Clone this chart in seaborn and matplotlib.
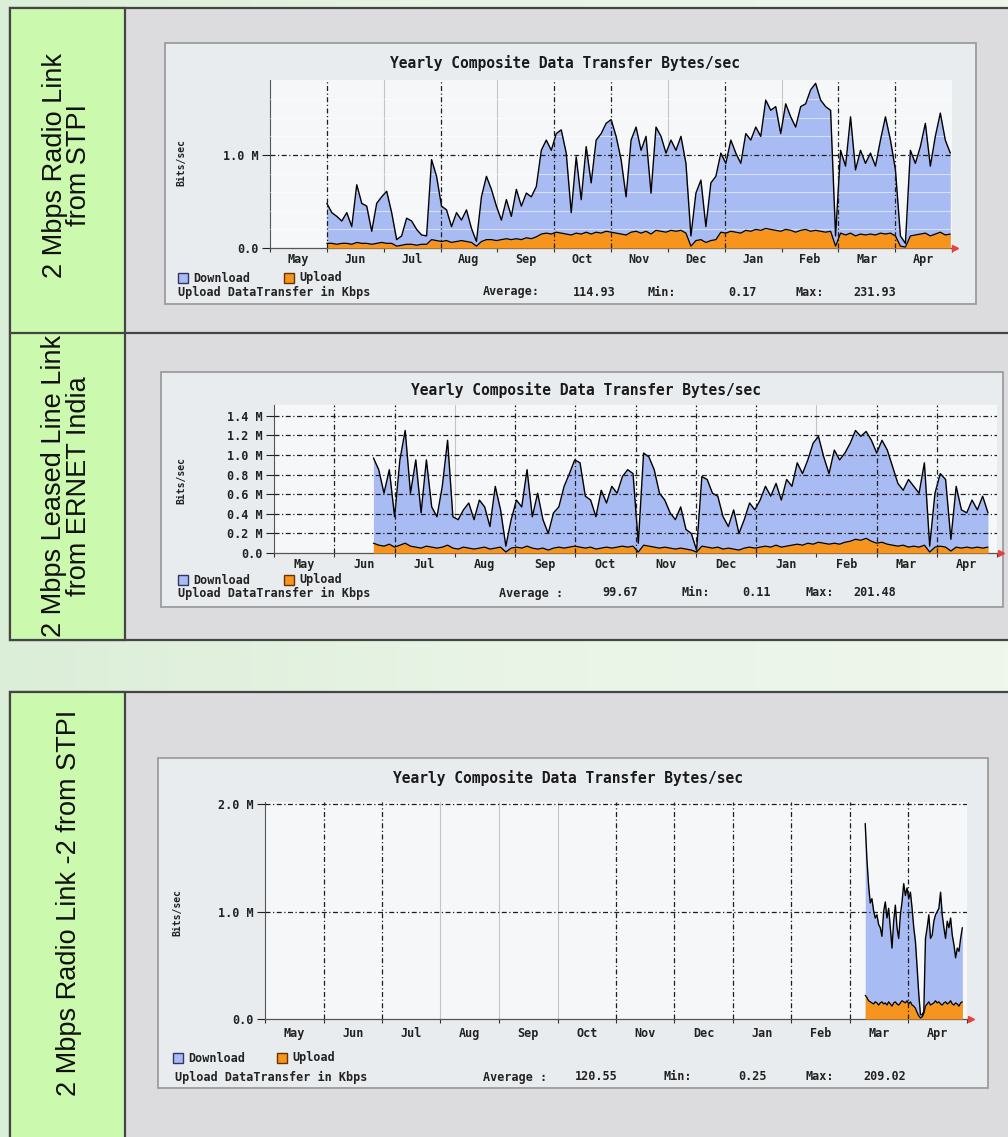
import numpy as np
import matplotlib
matplotlib.use("Agg")
import matplotlib.pyplot as plt
import seaborn as sns
from matplotlib.patches import Rectangle
from matplotlib.colors import LinearSegmentedColormap

sns.set_theme(style="white")
plt.rcParams['font.family'] = ['DejaVu Sans']

# ---------------- data ----------------
months = ["May", "Jun", "Jul", "Aug", "Sep", "Oct", "Nov", "Dec", "Jan", "Feb", "Mar", "Apr"]

row_labels = ["2 Mbps Radio Link\nfrom STPI",
              "2 Mbps Leased Line Link\nfrom ERNET India",
              "2 Mbps Radio Link -2 from STPI"]
chart_title = "Yearly Composite Data Transfer Bytes/sec"
y_axis_label = "Bits/sec"
legend_names = ["Download", "Upload"]
stats_caption = "Upload DataTransfer in Kbps"

# panel 1 (values in M)
p1_start, p1_end = 1.0, 11.97
p1_download = [0.48,0.38,0.34,0.29,0.38,0.23,0.68,0.48,0.45,0.18,
               0.48,0.55,0.61,0.38,0.09,0.13,0.32,0.29,0.20,0.14,
               0.13,0.95,0.77,0.45,0.41,0.23,0.38,0.30,0.41,0.21,
               0.07,0.55,0.77,0.63,0.45,0.30,0.52,0.34,0.63,0.45,
               0.59,0.55,0.66,1.05,1.16,1.05,1.23,1.27,1.02,0.38,
               0.98,0.52,1.09,0.70,1.16,1.23,1.34,1.38,1.20,0.95,
               0.55,1.16,1.30,1.05,1.20,0.59,1.30,1.20,1.02,1.16,
               1.05,1.20,0.91,0.13,0.59,0.73,0.23,0.70,0.77,1.02,
               0.91,1.16,1.02,0.91,1.23,1.16,1.30,1.20,1.59,1.48,
               1.52,1.23,1.55,1.41,1.30,1.52,1.55,1.70,1.77,1.59,
               1.52,1.48,0.13,1.05,0.88,1.41,0.84,1.05,0.91,1.02,
               0.88,1.16,1.41,1.16,0.84,0.13,0.05,1.05,0.91,1.09,
               1.34,0.88,1.20,1.45,1.16,1.02]
p1_upload = [0.05,0.05,0.04,0.05,0.05,0.04,0.06,0.05,0.05,0.04,
             0.05,0.06,0.05,0.05,0.02,0.03,0.04,0.04,0.03,0.04,
             0.04,0.09,0.08,0.07,0.08,0.06,0.07,0.08,0.07,0.06,
             0.02,0.07,0.09,0.09,0.08,0.09,0.10,0.09,0.10,0.09,
             0.11,0.10,0.12,0.15,0.16,0.15,0.17,0.16,0.15,0.14,
             0.16,0.15,0.17,0.15,0.17,0.16,0.18,0.17,0.16,0.15,
             0.14,0.17,0.18,0.16,0.18,0.15,0.19,0.18,0.17,0.19,
             0.18,0.19,0.16,0.02,0.08,0.09,0.06,0.08,0.09,0.17,
             0.16,0.18,0.17,0.16,0.19,0.18,0.20,0.19,0.21,0.20,
             0.19,0.18,0.20,0.19,0.17,0.19,0.20,0.18,0.19,0.18,
             0.17,0.18,0.02,0.16,0.14,0.16,0.13,0.15,0.14,0.15,
             0.14,0.16,0.15,0.16,0.13,0.02,0.01,0.13,0.14,0.15,
             0.16,0.13,0.15,0.17,0.14,0.15]
p1_yticks = [0.0, 1.0]
p1_yticklabels = ["0.0", "1.0 M"]
p1_stats = ["Average:", "114.93", "Min:", "0.17", "Max:", "231.93"]

# panel 2
p2_start, p2_end = 1.65, 11.85
p2_download = [0.97,0.85,0.61,0.85,0.37,0.95,1.25,0.61,0.95,0.41,
               0.95,0.47,0.37,0.68,1.15,0.37,0.34,0.44,0.51,0.34,
               0.54,0.47,0.27,0.68,0.44,0.07,0.34,0.54,0.47,0.85,
               0.37,0.61,0.34,0.20,0.41,0.47,0.68,0.81,0.95,0.92,
               0.58,0.54,0.37,0.64,0.51,0.68,0.61,0.78,0.85,0.81,
               0.10,1.02,0.98,0.85,0.61,0.54,0.41,0.34,0.47,0.24,
               0.20,0.03,0.78,0.75,0.61,0.58,0.37,0.27,0.44,0.20,
               0.34,0.51,0.44,0.54,0.68,0.58,0.71,0.54,0.75,0.68,
               0.92,0.81,0.95,1.12,1.19,0.98,0.81,1.05,0.95,1.02,
               1.12,1.25,1.19,1.24,1.15,1.02,1.15,1.05,0.88,0.71,
               0.64,0.75,0.68,0.61,0.92,0.07,0.61,0.81,0.75,0.14,
               0.68,0.44,0.41,0.54,0.44,0.58,0.41]
p2_upload = [0.10,0.08,0.07,0.09,0.06,0.08,0.10,0.07,0.06,0.05,
             0.07,0.06,0.05,0.06,0.08,0.05,0.04,0.06,0.05,0.04,
             0.05,0.06,0.04,0.05,0.06,0.01,0.05,0.06,0.05,0.07,
             0.05,0.04,0.05,0.03,0.05,0.06,0.05,0.06,0.07,0.06,
             0.05,0.06,0.04,0.05,0.06,0.05,0.06,0.07,0.06,0.07,
             0.01,0.08,0.07,0.06,0.05,0.06,0.05,0.04,0.05,0.04,
             0.03,0.01,0.07,0.06,0.05,0.06,0.04,0.05,0.04,0.03,
             0.05,0.06,0.05,0.06,0.07,0.06,0.08,0.06,0.07,0.08,
             0.09,0.08,0.10,0.09,0.11,0.10,0.09,0.10,0.09,0.11,
             0.12,0.14,0.13,0.15,0.12,0.10,0.11,0.09,0.08,0.07,
             0.08,0.06,0.07,0.06,0.08,0.01,0.06,0.07,0.06,0.02,
             0.06,0.05,0.06,0.05,0.06,0.05,0.06]
p2_yticks = [0.0, 0.2, 0.4, 0.6, 0.8, 1.0, 1.2, 1.4]
p2_yticklabels = ["0.0", "0.2 M", "0.4 M", "0.6 M", "0.8 M", "1.0 M", "1.2 M", "1.4 M"]
p2_stats = ["Average :", "99.67", "Min:", "0.11", "Max:", "201.48"]

# panel 3
p3_start, p3_end = 10.26, 11.92
p3_download = [1.82,1.49,1.25,1.08,1.12,1.01,0.94,0.97,0.88,0.85,
               0.77,1.00,1.09,0.94,1.03,0.85,0.66,0.91,1.06,0.85,
               0.75,0.97,1.09,1.26,1.15,1.22,1.12,1.18,1.03,0.85,
               0.72,0.48,0.23,0.04,0.04,0.07,0.75,0.85,0.97,0.75,
               0.78,0.91,0.97,1.00,1.03,1.18,0.97,0.85,0.75,0.91,
               0.85,0.94,0.78,0.69,0.57,0.66,0.63,0.75,0.85]
p3_upload = [0.22,0.20,0.17,0.16,0.15,0.14,0.16,0.15,0.13,0.15,
             0.16,0.14,0.15,0.13,0.16,0.14,0.12,0.15,0.16,0.14,
             0.13,0.15,0.17,0.16,0.15,0.17,0.14,0.16,0.13,0.12,
             0.10,0.06,0.03,0.01,0.02,0.05,0.12,0.14,0.16,0.13,
             0.14,0.15,0.17,0.15,0.16,0.14,0.13,0.15,0.16,0.14,
             0.15,0.17,0.14,0.13,0.15,0.14,0.12,0.15,0.16]
p3_yticks = [0.0, 1.0, 2.0]
p3_yticklabels = ["0.0", "1.0 M", "2.0 M"]
p3_stats = ["Average :", "120.55", "Min:", "0.25", "Max:", "209.02"]

# ---------------- style ----------------
W, H = 1008, 1137
BLUE = "#a8bbf3"
ORANGE = "#f7941d"
GREEN_CELL = "#cbf9ad"
GRAY_CELL = "#dcdbde"
FRAME = "#e9ecee"
PLOT_BG = "#f6f7f8"
MONO = ["DejaVu Sans Mono"]
SANS = ["Liberation Sans", "DejaVu Sans"]

fig = plt.figure(figsize=(W / 100, H / 100), dpi=100)

bg = fig.add_axes([0, 0, 1, 1], zorder=0)
bg.set_xlim(0, W)
bg.set_ylim(H, 0)
bg.axis("off")
grad = np.linspace(0, 1, 256).reshape(1, -1)
cmap_bg = LinearSegmentedColormap.from_list("bg", ["#dbeed7", "#e9f4e6", "#eff6ec"])
bg.imshow(grad, extent=(0, W, H, 0), aspect="auto", cmap=cmap_bg, zorder=0)

# tables
def table(y0, y1, dividers):
    bg.add_patch(Rectangle((10, y0), 1020, y1 - y0, fc=GRAY_CELL, ec="#454545", lw=1.6, zorder=1))
    bg.add_patch(Rectangle((10, y0), 115, y1 - y0, fc=GREEN_CELL, ec="#454545", lw=1.6, zorder=2))
    for d in dividers:
        bg.plot([10, 1030], [d, d], color="#454545", lw=1.6, zorder=3)

table(8, 640, [333])
table(692, 1160, [])

label_pos = [(67, 165), (67, 486), (69, 903)]
for txt, (lx, ly) in zip(row_labels, label_pos):
    bg.text(lx, ly, txt, rotation=90, ha="center", va="center", multialignment="center",
            fontsize=19.5, family=SANS, color="#111111", linespacing=0.95, zorder=4)

# chart frames
frames = [(165, 43, 976, 304), (161, 372, 1003, 607), (158, 758, 988, 1088)]
for (x0, y0, x1, y1) in frames:
    bg.add_patch(Rectangle((x0, y0), x1 - x0, y1 - y0, fc=FRAME, ec="#9c9c9c", lw=1.3, zorder=4))

def px_axes(x0, y0, x1, y1):
    return fig.add_axes([x0 / W, 1 - y1 / H, (x1 - x0) / W, (y1 - y0) / H], zorder=5)

def draw_panel(ax, start, end, down, up, ymax, yticks, yticklabels, dark, light, hgrid, light_h, xpad):
    x = np.linspace(start, end, len(down))
    ax.set_facecolor(PLOT_BG)
    ax.fill_between(x, down, color=BLUE, lw=0, zorder=2)
    ax.fill_between(x, up, color=ORANGE, lw=0, zorder=3)
    sns.lineplot(x=x, y=down, ax=ax, color="black", lw=1.0, zorder=4, estimator=None)
    sns.lineplot(x=x, y=up, ax=ax, color="black", lw=0.9, zorder=4, estimator=None)
    for m in light:
        ax.axvline(m, color="#c4c4c4", lw=0.8, zorder=1.5)
    for yv in light_h:
        ax.axhline(yv, color="#ffffff", lw=0.8, alpha=0.55, zorder=3.5)
    for m in dark:
        ax.axvline(m, color="#1e1e1e", lw=0.9, ls=(0, (4, 2, 1, 2)), zorder=5)
    for yv in hgrid:
        ax.axhline(yv, color="#1e1e1e", lw=0.9, ls=(0, (4, 2, 1, 2)), zorder=5)
    ax.set_xlim(0, 12)
    ax.set_ylim(0, ymax)
    for s in ["top", "right"]:
        ax.spines[s].set_visible(False)
    ax.spines["left"].set_color("#555555")
    ax.spines["left"].set_linewidth(0.8)
    ax.spines["bottom"].set_color("#555555")
    ax.spines["bottom"].set_linewidth(0.9)
    ax.set_xticks(np.arange(12) + 0.5, months)
    ax.set_xticks(np.arange(13), minor=True)
    ax.tick_params(axis="x", which="major", length=0, pad=xpad, labelsize=8.5, colors="#222222")
    ax.tick_params(axis="x", which="minor", length=3, width=0.8, direction="out", color="#333333", bottom=True)
    ax.set_yticks(yticks, yticklabels)
    ax.tick_params(axis="y", length=6, width=0.8, pad=2, labelsize=8.5, colors="#222222", left=True)
    for lab in ax.get_xticklabels() + ax.get_yticklabels():
        lab.set_family(MONO)
        lab.set_fontweight("bold")
    ax.set_xlabel("")
    ax.set_ylabel("")
    ax.plot([12.06], [0], marker=">", color="#e8403a", ms=4.5, clip_on=False, zorder=6)

ax1 = px_axes(270, 80, 952, 248)
draw_panel(ax1, p1_start, p1_end, p1_download, p1_upload, 1.806, p1_yticks, p1_yticklabels,
           dark=[1, 3, 5, 6, 8, 10, 11], light=[2, 4, 7, 9], hgrid=[1.0],
           light_h=[0.2, 0.4, 0.6, 0.8, 1.2, 1.4, 1.6], xpad=3.5)
ax2 = px_axes(274, 405, 997, 553)
draw_panel(ax2, p2_start, p2_end, p2_download, p2_upload, 1.51, p2_yticks, p2_yticklabels,
           dark=[1, 2, 4, 5, 6, 7, 8, 10, 11], light=[3, 9], hgrid=[0.2, 0.4, 0.6, 0.8, 1.0, 1.2, 1.4],
           light_h=[], xpad=3.5)
ax3 = px_axes(265, 802, 967, 1019)
draw_panel(ax3, p3_start, p3_end, p3_download, p3_upload, 2.02, p3_yticks, p3_yticklabels,
           dark=[1, 2, 6, 7, 8, 9, 10, 11], light=[3, 4, 5], hgrid=[1.0, 2.0],
           light_h=[], xpad=6)

# overlay texts
ov = fig.add_axes([0, 0, 1, 1], zorder=10)
ov.set_xlim(0, W)
ov.set_ylim(H, 0)
ov.axis("off")
ov.patch.set_alpha(0)

titles = [(565, 63), (586, 390), (568, 778)]
for (tx, ty) in titles:
    ov.text(tx, ty, chart_title, ha="center", va="center", family=MONO, fontweight="bold",
            fontsize=10.5, color="#1a1a1a")

ylab_pos = [(181, 163), (181, 480), (177, 913)]
for (yx, yy) in ylab_pos:
    ov.text(yx, yy, y_axis_label, rotation=90, ha="center", va="center", family=MONO,
            fontweight="bold", fontsize=7, color="#222222")

legend_rows = [(178, 284, 278), (178, 284, 580), (173, 277, 1058)]
for (bx, ox, ly) in legend_rows:
    ov.add_patch(Rectangle((bx, ly - 5), 10, 10, fc=BLUE, ec="#333366", lw=1.0))
    ov.text(bx + 15, ly, legend_names[0], ha="left", va="center", family=MONO, fontweight="bold",
            fontsize=8.5, color="#222222")
    ov.add_patch(Rectangle((ox, ly - 5), 10, 10, fc=ORANGE, ec="#663300", lw=1.0))
    ov.text(ox + 15, ly, legend_names[1], ha="left", va="center", family=MONO, fontweight="bold",
            fontsize=8.5, color="#222222")

stats_rows = [
    (292, 178, p1_stats, [483, 573, 647, 728, 795, 853]),
    (593, 178, p2_stats, [499, 602, 681, 742, 806, 853]),
    (1077, 175, p3_stats, [483, 575, 663, 738, 805, 863]),
]
for (sy, sx, vals, xs) in stats_rows:
    ov.text(sx, sy, stats_caption, ha="left", va="center", family=MONO, fontweight="bold",
            fontsize=8.5, color="#222222")
    for v, vx in zip(vals, xs):
        ov.text(vx, sy, v, ha="left", va="center", family=MONO, fontweight="bold",
                fontsize=8.5, color="#222222")

fig.savefig("out.png", dpi=100)
